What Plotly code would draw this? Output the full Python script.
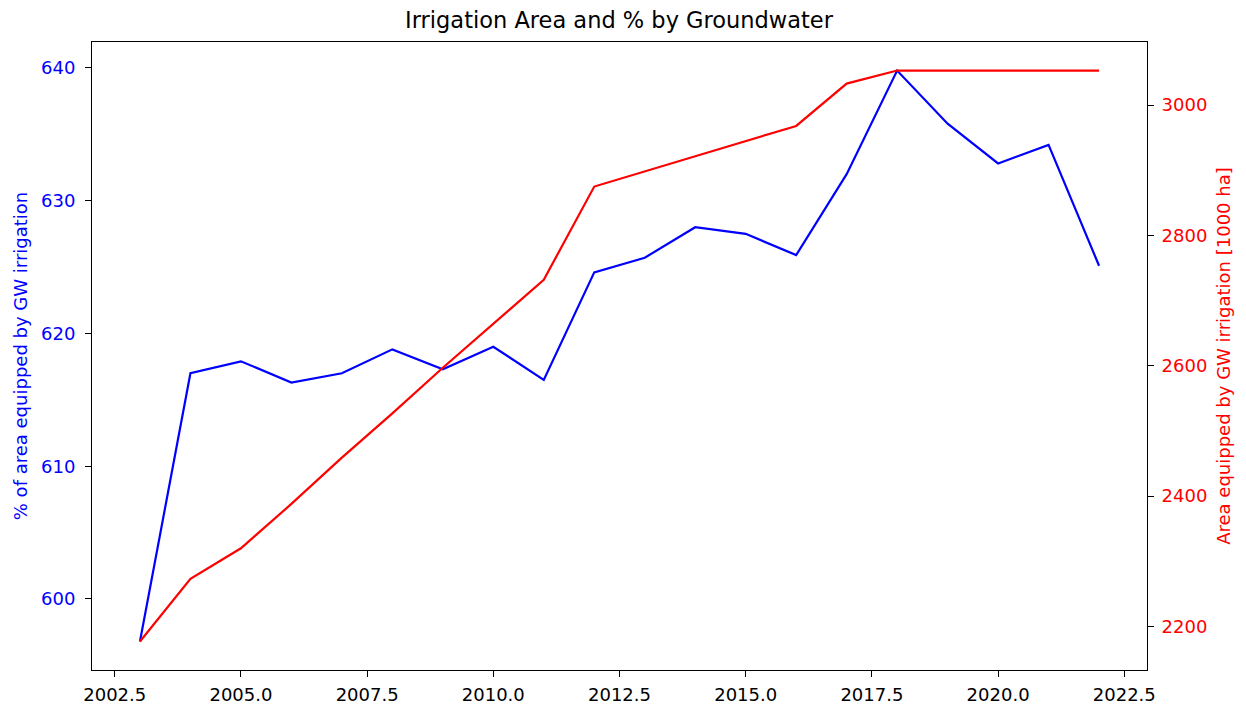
import plotly.graph_objects as go

years = list(range(2003, 2023))
pct_gw = [596.8, 617.0, 617.9, 616.3, 617.0, 618.8, 617.3, 619.0, 616.5, 624.6,
          625.7, 628.0, 627.5, 625.9, 632.0, 639.8, 635.8, 632.8, 634.2, 625.1]
area_gw = [2177, 2273, 2320, 2388, 2459, 2527, 2597, 2664, 2732, 2875,
           2898, 2921, 2944, 2968, 3033, 3053, 3053, 3053, 3053, 3053]

title_text = "Irrigation Area and % by Groundwater"
left_label = "% of area equipped by GW irrigation"
right_label = "Area equipped by GW irrigation [1000 ha]"

def padded(vals, frac=0.05):
    lo, hi = min(vals), max(vals)
    d = (hi - lo) * frac
    return [lo - d, hi + d]

FONT = "DejaVu Sans"
TICK = 18

fig = go.Figure()
fig.add_trace(go.Scatter(x=years, y=pct_gw, mode="lines",
                         line=dict(color="#0000ff", width=2.2), yaxis="y", showlegend=False))
fig.add_trace(go.Scatter(x=years, y=area_gw, mode="lines",
                         line=dict(color="#ff0000", width=2.2), yaxis="y2", showlegend=False))

fig.update_layout(
    width=1246, height=709,
    margin=dict(l=84, r=107, t=34, b=41),
    paper_bgcolor="white", plot_bgcolor="white",
    font=dict(family=FONT, size=TICK, color="black"),
    title=dict(text=title_text, x=0.4904, xanchor="center", y=0.983, yanchor="middle",
               font=dict(family=FONT, size=22.5, color="black")),
    xaxis=dict(range=padded(years), tick0=2002.5, dtick=2.5, tickformat=".1f",
               showgrid=False, zeroline=False, showline=True, linecolor="black",
               linewidth=1, mirror=True, ticks="outside", ticklen=6, tickcolor="black",
               ticklabelstandoff=2,
               tickfont=dict(family=FONT, size=TICK, color="black")),
    yaxis=dict(range=padded(pct_gw), tick0=600, dtick=10, showgrid=False, zeroline=False,
               showline=True, linecolor="black", linewidth=1, mirror=True,
               ticks="outside", ticklen=6, tickcolor="black", ticklabelstandoff=6,
               tickfont=dict(family=FONT, size=TICK, color="#0000ff"),
               title=dict(text=left_label, font=dict(family=FONT, size=TICK, color="#0000ff"),
                          standoff=8)),
    yaxis2=dict(range=padded(area_gw), tick0=2200, dtick=200, overlaying="y", side="right",
                showgrid=False, zeroline=False, showline=True, linecolor="black", linewidth=1,
                ticks="outside", ticklen=6, tickcolor="black", ticklabelstandoff=4,
                tickfont=dict(family=FONT, size=TICK, color="#ff0000"),
                title=dict(text=right_label, font=dict(family=FONT, size=TICK, color="#ff0000"),
                           standoff=10)),
)

fig.write_html("out.html")
